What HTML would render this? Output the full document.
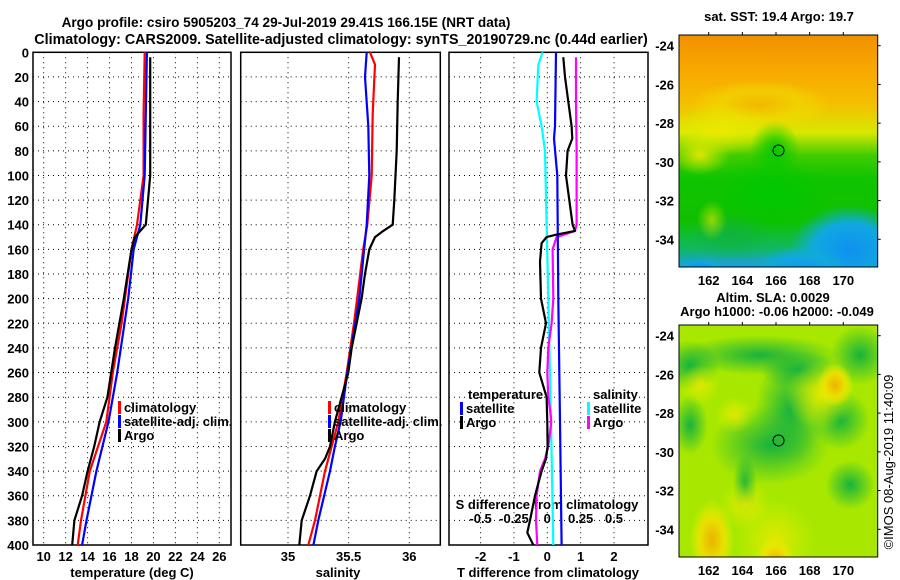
<!DOCTYPE html>
<html><head><meta charset="utf-8"><style>
body{margin:0;background:#fff;}
svg{display:block;font-family:"Liberation Sans",sans-serif;font-weight:bold;}
</style></head><body>
<svg id="c" width="900" height="580" xmlns="http://www.w3.org/2000/svg">
<defs>
<linearGradient id="sst" x1="0" y1="0" x2="0" y2="1">
<stop offset="0" stop-color="#f09000"/><stop offset="0.15" stop-color="#f8a800"/><stop offset="0.3" stop-color="#f4c000"/><stop offset="0.42" stop-color="#d8e800"/>
<stop offset="0.52" stop-color="#40cc00"/><stop offset="0.62" stop-color="#10c400"/><stop offset="0.8" stop-color="#10c000"/><stop offset="0.92" stop-color="#10b860"/><stop offset="1" stop-color="#1c9ce8"/>
</linearGradient>
<radialGradient id="ye"><stop offset="0" stop-color="#f0b000"/><stop offset="0.55" stop-color="#f0e000"/><stop offset="1" stop-color="#f0f000" stop-opacity="0"/></radialGradient>
<radialGradient id="gr"><stop offset="0" stop-color="#10c070"/><stop offset="0.5" stop-color="#10b840"/><stop offset="1" stop-color="#20c020" stop-opacity="0"/></radialGradient>
<radialGradient id="bl"><stop offset="0" stop-color="#1090f0"/><stop offset="0.6" stop-color="#10a8e0"/><stop offset="1" stop-color="#10b0d0" stop-opacity="0"/></radialGradient>
<radialGradient id="gn"><stop offset="0" stop-color="#00c800"/><stop offset="1" stop-color="#00c800" stop-opacity="0"/></radialGradient>
<radialGradient id="yl"><stop offset="0" stop-color="#f0e800"/><stop offset="1" stop-color="#e0f000" stop-opacity="0"/></radialGradient>
<radialGradient id="dg"><stop offset="0" stop-color="#10b040"/><stop offset="1" stop-color="#10b040" stop-opacity="0"/></radialGradient>
</defs>
<g id="g"></g>
</svg>
<script>
const depths=[0,20,40,60,80,100,120,140,160,180,200,220,240,260,280,300,320,340,360,380,400];
const tClimDepth=[0,50,100,120,140,160,200,220,260,300,340,380,400];
const tClim=[19.2,19.1,19.1,18.8,18.5,18.0,17.4,17.1,16.3,15.7,14.2,13.4,13.1];
const tSatDepth=[0,100,140,160,200,260,300,340,380,400];
const tSat=[19.4,19.2,18.8,18.2,17.7,16.7,15.9,14.8,13.9,13.5];
const tArgoDepth=[4,100,120,140,145,150,160,200,240,280,300,320,340,360,380,400];
const tArgo=[19.7,19.7,19.5,19.3,18.8,18.3,18.0,17.3,16.5,15.8,15.1,14.6,14.0,13.5,12.8,12.6];
const sClimDepth=[0,10,50,100,140,160,200,220,260,300,340,380,400];
const sClim=[35.676,35.717,35.698,35.69,35.654,35.62,35.57,35.544,35.484,35.415,35.305,35.223,35.167];
const sSatDepth=[0,20,60,100,140,160,200,260,300,320,340,380,400];
const sSat=[35.649,35.635,35.662,35.67,35.649,35.627,35.588,35.489,35.434,35.387,35.346,35.25,35.209];
const sArgoDepth=[4,40,80,120,140,145,150,160,180,200,240,260,300,320,330,340,360,380,400];
const sArgo=[35.915,35.904,35.896,35.876,35.863,35.786,35.717,35.67,35.635,35.607,35.525,35.497,35.387,35.346,35.305,35.237,35.181,35.113,35.093];
const dTSatDepth=[0,60,70,100,200,300,400];
const dTSat=[0.26,0.23,0.20,0.30,0.33,0.38,0.43];
const dTArgoDepth=[4,20,40,60,70,80,100,120,140,145,148,150,155,170,200,220,240,260,280,300,320,330,340,360,380,390,400];
const dTArgo=[0.48,0.53,0.63,0.73,0.75,0.61,0.56,0.66,0.76,0.83,0.28,-0.02,-0.17,-0.22,-0.19,-0.04,-0.19,-0.24,-0.02,0,0.01,-0.04,-0.17,-0.37,-0.52,-0.6,-0.42];
const dSSatDepth=[0,10,40,60,80,140,200,300,400];
const dSSat=[-0.035,-0.0675,-0.08,-0.0425,-0.0175,-0.005,0.0075,0.0275,0.045];
const dSArgoDepth=[4,40,80,140,145,150,160,200,220,240,260,280,290,300,320,330,340,360,380,400];
const dSArgo=[0.215,0.215,0.22,0.22,0.2075,0.07,0.04,0.045,0.0325,0.0075,0,0.0075,0.02,0.03,0.0075,-0.0175,-0.055,-0.08,-0.085,-0.075];
const tTicks=[10,12,14,16,18,20,22,24,26];
const sTicks=[35,35.5,36];
const dTTicks=[-2,-1,0,1,2];
const dSTicks=[-0.5,-0.25,0,0.25,0.5];
const dSTickLabels=["-0.5","-0.25","0","0.25","0.5"];
const lonTicks=[162,164,166,168,170];
const latTicks=[-24,-26,-28,-30,-32,-34];

const NS="http://www.w3.org/2000/svg";
const G=document.getElementById('g');
function el(tag,attrs,parent,txt){const e=document.createElementNS(NS,tag);for(const k in attrs)e.setAttribute(k,attrs[k]);if(txt!==undefined)e.textContent=txt;(parent||G).appendChild(e);return e;}
const Y0=52.3,Y1=545;
const yD=d=>Y0+d*(Y1-Y0)/400;
function xLin(a,b,p,q){return v=>p+(v-a)*(q-p)/(b-a);}
const xT=xLin(10,26,43.7,219.3);
const xS=xLin(35,36,288,409.3);
const xDT=xLin(0,2,547.3,614);
const xDS=xLin(0,0.5,547.3,614);

function frame(x0,x1,name){
  const r=el('rect',{x:x0,y:Y0,width:x1-x0,height:Y1-Y0,fill:'none',stroke:'#000','stroke-width':1.5});
  
  
  depths.forEach(d=>{if(d>0&&d<400){const l=el('line',{x1:x0,x2:x1,y1:yD(d),y2:yD(d),stroke:'#000','stroke-dasharray':'1 4','stroke-width':1});
  }});
}
function vgrid(vals,fx,name){vals.forEach(v=>{const l=el('line',{x1:fx(v),x2:fx(v),y1:Y0,y2:Y1,stroke:'#000','stroke-dasharray':'1 4','stroke-width':1});
});}
function line(ds,vs,fx,color,name){const pts=ds.map((d,i)=>fx(vs[i]).toFixed(1)+','+yD(d).toFixed(1)).join(' ');
const p=el('polyline',{points:pts,fill:'none',stroke:color,'stroke-width':2.2,'stroke-linejoin':'round'});
}
function text(x,y,s,anchor,name,size,fill){const t=el('text',{x:x,y:y,'text-anchor':anchor||'start','font-size':size||13,fill:fill||'#000'},G,s);
return t;}
function legend(x,y,color,label,name){const r=el('rect',{x:x,y:y-11,width:3,height:13,fill:color});
text(x+6,y,label,'start',name);}

// titles
text(286,27,'Argo profile: csiro 5905203_74 29-Jul-2019 29.41S 166.15E (NRT data)','middle','title-line-1',13.6);
text(341,44,'Climatology: CARS2009. Satellite-adjusted climatology: synTS_20190729.nc (0.44d earlier)','middle','title-line-2',14.3);

// panel 1
frame(33,231,'temperature-panel');vgrid(tTicks.slice(0,9),xT,'temperature-gridline');
depths.forEach(d=>text(29,yD(d)+5,String(d),'end','depth-tick-label'));
tTicks.forEach(v=>text(xT(v),561,String(v),'middle','temperature-tick-label'));
text(132,577,'temperature (deg C)','middle','temperature-axis-title');
line(tClimDepth,tClim,xT,'#ff0000','temperature-climatology-line');
line(tSatDepth,tSat,xT,'#0000ff','temperature-satellite-line');
line(tArgoDepth,tArgo,xT,'#000','temperature-argo-line');
legend(118,412,'#ff0000','climatology','legend-climatology');
legend(118,426,'#0000ff','satellite-adj. clim.','legend-satellite-adj');
legend(118,440,'#000','Argo','legend-argo');

// panel 2
frame(240.7,440.3,'salinity-panel');vgrid(sTicks,xS,'salinity-gridline');
sTicks.forEach(v=>text(xS(v),561,String(v),'middle','salinity-tick-label'));
text(338,577,'salinity','middle','salinity-axis-title');
line(sClimDepth,sClim,xS,'#ff0000','salinity-climatology-line');
line(sSatDepth,sSat,xS,'#0000ff','salinity-satellite-line');
line(sArgoDepth,sArgo,xS,'#000','salinity-argo-line');
legend(328,412,'#ff0000','climatology','legend-climatology-2');
legend(328,426,'#0000ff','satellite-adj. clim.','legend-satellite-adj-2');
legend(328,440,'#000','Argo','legend-argo-2');

// panel 3
frame(449,648,'difference-panel');vgrid(dTTicks,xDT,'difference-gridline');
dTTicks.forEach(v=>text(xDT(v),561,String(v),'middle','t-difference-tick-label'));
text(548,577,'T difference from climatology','middle','t-difference-axis-title');
dSTicks.forEach((v,i)=>text(xDS(v),523,dSTickLabels[i],'middle','s-difference-tick-label'));
text(547,509,'S difference from climatology','middle','s-difference-axis-title');
line(dSSatDepth,dSSat,xDS,'#00ffff','s-diff-satellite-line');
line(dSArgoDepth,dSArgo,xDS,'#ff00ff','s-diff-argo-line');
line(dTSatDepth,dTSat,xDT,'#0000ff','t-diff-satellite-line');
line(dTArgoDepth,dTArgo,xDT,'#000','t-diff-argo-line');
text(468,399,'temperature','start','legend-temperature-heading');
legend(460,413,'#0000ff','satellite','legend-t-satellite');
legend(460,427,'#000','Argo','legend-t-argo');
text(593,399,'salinity','start','legend-salinity-heading');
legend(587,413,'#00ffff','satellite','legend-s-satellite');
legend(587,427,'#ff00ff','Argo','legend-s-argo');

// maps
const MX0=679,MX1=877.7;
const xLon=xLin(162,170,708.7,843.3);
function blobs(list,fill,parent,y0,op){list.forEach(b=>el('ellipse',{cx:b[0],cy:y0+b[1],rx:b[2],ry:b[3],fill:fill,opacity:op||1},parent));}
function map(y0,y1,kind,name){
  const latY=xLin(-24,-34,y0+10.7,y0+204.3);
  const g=el('g',{});
  const clip=el('clipPath',{id:'cp'+kind},g);el('rect',{x:MX0,y:y0,width:MX1-MX0,height:y1-y0},clip);
  const inner=el('g',{'clip-path':'url(#cp'+kind+')'},g);
  if(kind==='sst'){
    el('rect',{x:MX0,y:y0,width:MX1-MX0,height:y1-y0,fill:'url(#sst)'},inner);
    blobs([[720,95,55,25],[700,120,30,20]],'url(#yl)',inner,y0,0.9);
    blobs([[775,115,25,30],[770,160,60,40]],'url(#gn)',inner,y0);
    blobs([[760,70,70,25]],'url(#ye)',inner,y0,0.5);
    blobs([[850,215,60,45],[800,240,50,30],[700,232,25,8]],'url(#bl)',inner,y0);
    blobs([[730,200,40,25]],'url(#dg)',inner,y0,0.8);
    blobs([[712,185,15,20]],'url(#yl)',inner,y0,0.6);
  } else {
    el('rect',{x:MX0,y:y0,width:MX1-MX0,height:y1-y0,fill:'#a8e800'},inner);
    blobs([[690,40,30,25],[760,30,80,20],[790,85,35,55],[770,120,60,40],[745,160,12,30],[850,160,25,25],[860,30,30,30],[690,100,18,30],[840,95,30,30],[800,45,40,20]],'url(#dg)',inner,y0,0.95);
    blobs([[700,60,20,20],[735,90,20,18],[820,70,35,35],[775,215,40,40],[745,180,25,25]],'url(#yl)',inner,y0,0.8);
    blobs([[835,60,18,22],[712,215,22,40],[775,235,20,22]],'url(#ye)',inner,y0,0.9);
  }
  el('rect',{x:MX0,y:y0,width:MX1-MX0,height:y1-y0,fill:'none',stroke:'#000','stroke-width':1},g);
  el('circle',{cx:xLon(166.15),cy:latY(-29.41),r:5.5,fill:'none',stroke:'#000','stroke-width':1},g);
  lonTicks.forEach(v=>{el('line',{x1:xLon(v),x2:xLon(v),y1:y0-3,y2:y0,stroke:'#000'},g);
    const t=el('text',{x:xLon(v),y:y1+18,'text-anchor':'middle','font-size':13},g,String(v));});
  latTicks.forEach(v=>{el('line',{x1:MX1,x2:MX1+3,y1:latY(v),y2:latY(v),stroke:'#000'},g);
    const t=el('text',{x:674,y:latY(v)+5,'text-anchor':'end','font-size':13},g,String(v));});
}
map(35,267,'sst','sst-map');
map(325,557,'sla','sla-map');
text(779,21,'sat. SST: 19.4 Argo: 19.7','middle','sst-map-title');
text(773,302,'Altim. SLA: 0.0029','middle','sla-map-title');
text(777,316,'Argo h1000: -0.06 h2000: -0.049','middle','sla-map-subtitle');
const cr=text(0,0,'©IMOS 08-Aug-2019 11:40:09','middle','copyright-label',13);
cr.setAttribute('font-weight','normal');
cr.setAttribute('transform','translate(893,462) rotate(-90)');
</script>
</body></html>
